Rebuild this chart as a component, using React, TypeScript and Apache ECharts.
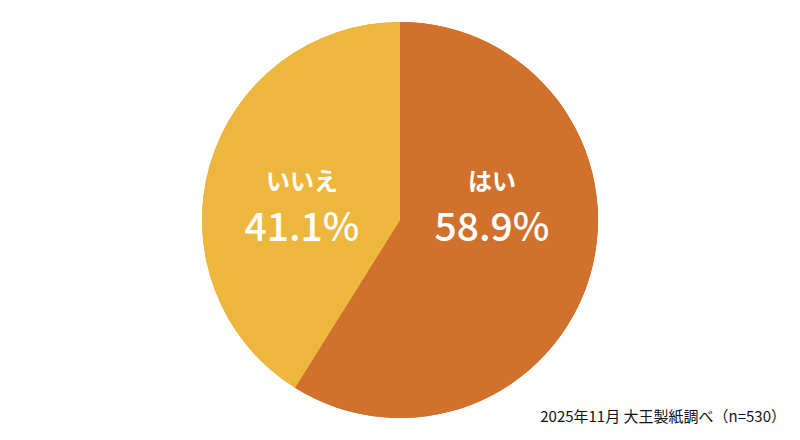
import React, { useEffect, useRef } from "react";
import * as echarts from "echarts";

const categories = ["はい", "いいえ"];
const values = [58.9, 41.1];
const colors = ["#D0712E", "#EDB63D"];
const sourceNote = "2025年11月 大王製紙調べ（n=530）";

const labelX = [492, 302];
const nameY = 179;
const valueY = 224;

export default function App() {
  const ref = useRef<HTMLDivElement>(null);
  useEffect(() => {
    if (!ref.current) return;
    const chart = echarts.init(ref.current, undefined, { renderer: "svg" });
    const font = '"Noto Sans CJK JP", "Noto Sans", sans-serif';
    const data = categories.map((c, i) => ({
      name: c,
      value: values[i],
      itemStyle: { color: colors[i] },
    }));
    const base = {
      type: "pie",
      center: [400, 220],
      radius: [0, 198],
      startAngle: 90,
      clockwise: true,
      silent: true,
      itemStyle: { borderWidth: 0 },
      labelLine: { show: false },
      data,
    };
    chart.setOption({
      animation: false,
      backgroundColor: "#ffffff",
      series: [
        {
          ...base,
          label: {
            show: true,
            position: "inside",
            formatter: (p: any) => p.name,
            fontFamily: font,
            fontSize: 24,
            fontWeight: 700,
            color: "#ffffff",
            lineHeight: 26,
          },
          labelLayout: (params: any) => ({
            x: labelX[params.dataIndex],
            y: nameY,
            align: "center",
            verticalAlign: "middle",
          }),
        },
        {
          ...base,
          label: {
            show: true,
            position: "inside",
            formatter: (p: any) => `${p.value.toFixed(1)}%`,
            fontFamily: font,
            fontSize: 39,
            fontWeight: 500,
            color: "#ffffff",
            lineHeight: 41,
          },
          labelLayout: (params: any) => ({
            x: labelX[params.dataIndex],
            y: valueY,
            align: "center",
            verticalAlign: "middle",
          }),
        },
      ],
      graphic: [
        {
          type: "text",
          right: 14,
          top: 408,
          style: {
            text: sourceNote,
            fontFamily: font,
            fontSize: 15,
            fill: "#111111",
          },
        },
      ],
    });
    return () => chart.dispose();
  }, []);
  return <div ref={ref} style={{ width: 800, height: 440, position: "absolute", left: 0, top: 0 }} />;
}
